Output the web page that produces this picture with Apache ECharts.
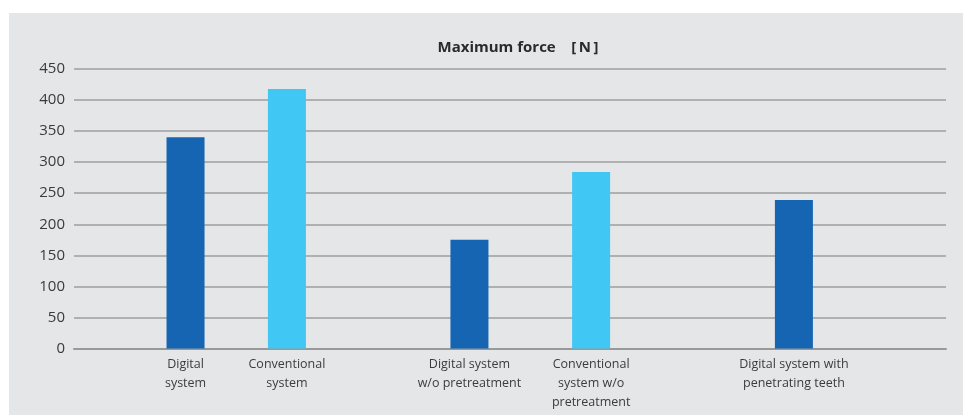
<!DOCTYPE html>
<html>
<head>
<meta charset="utf-8">
<script src="https://cdn.jsdelivr.net/npm/echarts@6/dist/echarts.min.js"></script>
<style>
  html, body { margin: 0; padding: 0; background: #ffffff; }
  #chart { width: 963px; height: 416px; }
</style>
</head>
<body>
<div id="chart"></div>
<script>
// Measured bar categories and their maximum force values [N]
const categories = [
  'Digital\nsystem',
  'Conventional\nsystem',
  'Digital system\nw/o pretreatment',
  'Conventional\nsystem w/o\npretreatment',
  'Digital system with\npenetrating teeth'
];
const digitalForce = [340, null, 175, null, 239];
const conventionalForce = [null, 418, null, 284, null];
const yTicks = [0, 50, 100, 150, 200, 250, 300, 350, 400, 450];

// Layout: the axis is split into fine slots so the bars sit with uneven spacing
const SLOT_COUNT = 43;
const slotOf = [5, 10, 19, 25, 35];

const axisCats = new Array(SLOT_COUNT).fill('');
const darkData = new Array(SLOT_COUNT).fill('-');
const lightData = new Array(SLOT_COUNT).fill('-');
categories.forEach((c, i) => {
  axisCats[slotOf[i]] = c;
  if (digitalForce[i] != null) darkData[slotOf[i]] = digitalForce[i];
  if (conventionalForce[i] != null) lightData[slotOf[i]] = conventionalForce[i];
});

const FONT = "'Open Sans', 'Noto Sans', sans-serif";
const chart = echarts.init(document.getElementById('chart'), null, { renderer: 'canvas' });

chart.setOption({
  backgroundColor: '#ffffff',
  animation: false,
  graphic: [{
    type: 'rect',
    z: -10,
    silent: true,
    shape: { x: 9, y: 13, width: 954, height: 402 },
    style: { fill: '#e5e6e8' }
  }],
  title: {
    text: 'Maximum force    [\u2009N\u2009]',
    left: 513,
    textAlign: 'center',
    top: 35,
    textStyle: { fontFamily: FONT, fontSize: 15, fontWeight: 'bold', color: '#2a2a2a' }
  },
  grid: { left: 74, right: 17, top: 69, bottom: 67.5, containLabel: false },
  xAxis: {
    type: 'category',
    data: axisCats,
    axisTick: { show: false },
    axisLine: { show: true, lineStyle: { color: '#999999', width: 2 } },
    axisLabel: {
      interval: 0,
      margin: 6,
      fontFamily: FONT,
      fontSize: 12.5,
      lineHeight: 19,
      color: '#3c3c3c'
    }
  },
  yAxis: {
    type: 'value',
    min: yTicks[0],
    max: yTicks[yTicks.length - 1],
    interval: yTicks[1] - yTicks[0],
    axisLine: { show: false },
    axisTick: { show: false },
    axisLabel: { margin: 9, fontFamily: FONT, fontSize: 15, color: '#3a3a3a' },
    splitLine: { lineStyle: { color: '#b0b0b2', width: 2 } }
  },
  series: [
    {
      name: 'Digital',
      type: 'bar',
      data: darkData,
      barWidth: 38,
      barGap: '-100%',
      itemStyle: { color: '#1565b2' }
    },
    {
      name: 'Conventional',
      type: 'bar',
      data: lightData,
      barWidth: 38,
      barGap: '-100%',
      itemStyle: { color: '#41c7f4' }
    }
  ]
});
</script>
</body>
</html>
